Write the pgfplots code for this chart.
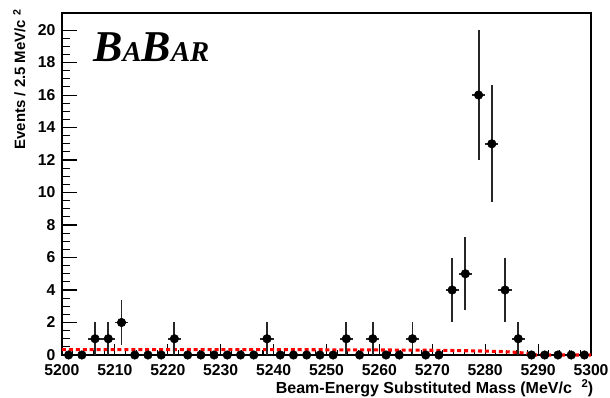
\documentclass[border=0pt]{standalone}
\usepackage{fontspec}
\setmainfont{Liberation Sans}
\newfontfamily\babarfont{Liberation Serif}
\usepackage{pgfplots}
\pgfplotsset{compat=1.18}
\begin{document}
\begin{tikzpicture}
\begin{axis}[
  scale only axis,
  width=396.75pt, height=256.5pt,
  xmin=5200, xmax=5300, ymin=0, ymax=21.05,
  xtick={5200,5210,...,5300},
  ytick={0,2,...,20},
  minor x tick num=4,
  minor y tick num=3,
  xtick pos=bottom, ytick pos=left,
  tick align=inside,
  major x tick style={/pgfplots/major tick length=8.25pt},
  minor x tick style={/pgfplots/minor tick length=3.75pt},
  major y tick style={/pgfplots/major tick length=11.25pt},
  minor y tick style={/pgfplots/minor tick length=6pt},
  tick style={black, line width=0.8pt},
  axis line style={line width=0.8pt},
  /pgf/number format/assume math mode=true,
  /pgf/number format/1000 sep={},
  tick label style={font=\fontsize{11.8}{14}\selectfont\bfseries},
  xticklabel style={yshift=-3.5pt},
  yticklabel style={xshift=-1.5pt},
  xlabel={Beam-Energy Substituted Mass (MeV/c\hspace{0.6em}\raisebox{0.75ex}{\fontsize{8.5}{9}\selectfont 2})},
  xlabel style={at={(axis description cs:1.013,0)}, anchor=base east, yshift=-29.25pt, font=\fontsize{12}{13}\selectfont\bfseries},
  ylabel={Events / 2.5 MeV/c \raisebox{0.55ex}{\fontsize{8}{9}\selectfont 2}},
  ylabel style={at={(axis description cs:-0.0699,1.023)}, anchor=base east, font=\fontsize{11.2}{13}\selectfont\bfseries},
  clip=false,
]
% background (red dashed)
\addplot[red, line width=2.3pt, dash pattern=on 3pt off 2.2pt] coordinates {
(5200,0.33) (5210,0.33) (5220,0.33) (5230,0.33) (5240,0.33) (5250,0.32) (5260,0.31)
(5270,0.29) (5275,0.27) (5280,0.24) (5283,0.21) (5285,0.18) (5287,0.13) (5288,0.10)
(5289,0.05) (5289.5,0) (5300,0)
};
% zero bins
\addplot[only marks, mark=*, mark size=3.2pt, black] coordinates {
(5201.25,0) (5203.75,0) (5213.75,0) (5216.25,0) (5218.75,0) (5223.75,0) (5226.25,0)
(5228.75,0) (5231.25,0) (5233.75,0) (5236.25,0) (5241.25,0) (5243.75,0) (5246.25,0)
(5248.75,0) (5251.25,0) (5256.25,0) (5261.25,0) (5263.75,0) (5268.75,0) (5271.25,0)
(5288.75,0) (5291.25,0) (5293.75,0) (5296.25,0) (5298.75,0)
};
% nonzero bins
\addplot[only marks, mark=*, mark size=3.2pt, black,
  error bars/.cd, y dir=both, y explicit, x dir=both, x fixed=1.25,
  error mark=none, error bar style={line width=1.4pt, black!85}]
  coordinates {
(5206.25,1) +- (0,1)
(5208.75,1) +- (0,1)
(5211.25,2) +- (0,1.414)
(5221.25,1) +- (0,1)
(5238.75,1) +- (0,1)
(5253.75,1) +- (0,1)
(5258.75,1) +- (0,1)
(5266.25,1) +- (0,1)
(5273.75,4) +- (0,2)
(5276.25,5) +- (0,2.236)
(5278.75,16) +- (0,4)
(5281.25,13) +- (0,3.606)
(5283.75,4) +- (0,2)
(5286.25,1) +- (0,1)
};
\node[anchor=base west, inner sep=0pt] at (axis description cs:0.0586,0.857)
  {\babarfont\bfseries\itshape\fontsize{33}{33}\selectfont B\fontsize{21.5}{22}\selectfont A\fontsize{33}{33}\selectfont B\fontsize{21.5}{22}\selectfont AR};
\end{axis}
\pgfresetboundingbox
\path ([shift={(-46.5pt,-32.25pt)}]current axis.south west) rectangle ([shift={(14.25pt,9.75pt)}]current axis.north east);
\end{tikzpicture}
\end{document}
